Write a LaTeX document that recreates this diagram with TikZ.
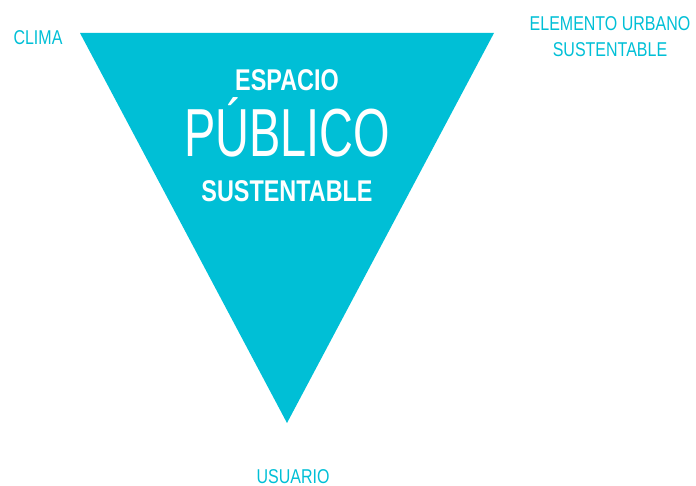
\documentclass[tikz,border=0pt]{standalone}
\usepackage{fontspec}
\setmainfont[FakeStretch=0.69]{Liberation Sans}
\newfontfamily\letraetiqueta[FakeStretch=0.80]{Liberation Sans}
\newfontfamily\letratitulo[FakeStretch=0.78]{Liberation Sans}
\definecolor{cian}{HTML}{00BFD6}
\tikzset{
  etiqueta/.style={text=cian,inner sep=0pt,anchor=base,font=\letraetiqueta\fontsize{20}{24}\selectfont,align=center},
  titulo/.style={text=white,inner sep=0pt,anchor=base,font=\letratitulo\bfseries\fontsize{30}{34}\selectfont}
}
\begin{document}
\begin{tikzpicture}[x=1pt,y=-1pt]
\useasboundingbox (0,0) rectangle (696,486);
\coordinate (izq) at (80,33);
\coordinate (der) at (494,33);
\coordinate (abajo) at (287,423);
\fill[cian] (izq)--(der)--(abajo)--cycle;
\node[titulo] at (287,91) (espacio) {ESPACIO};
\node[text=white,inner sep=0pt,anchor=base,font=\fontsize{68}{72}\selectfont] at (287,157) (publico) {PÚBLICO};
\node[titulo] at (287,202) (sust) {SUSTENTABLE};
\node[etiqueta] at (38,45) (clima) {CLIMA};
\node[etiqueta] at (610,31) (elemento) {ELEMENTO URBANO};
\node[etiqueta] at (610,57) (elemsust) {SUSTENTABLE};
\node[etiqueta] at (293,483) (usuario) {USUARIO};
\end{tikzpicture}
\end{document}
